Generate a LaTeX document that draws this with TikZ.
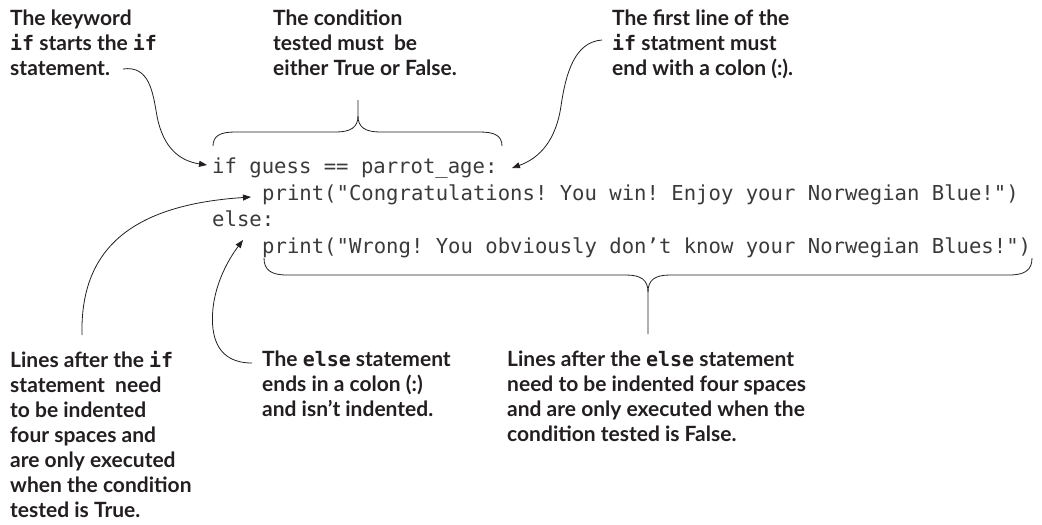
\documentclass[tikz,border=0pt]{standalone}
\usepackage{fontspec}
\setmainfont{Lato}
\setmonofont{DejaVu Sans Mono}
\usetikzlibrary{arrows.meta}
\definecolor{ink}{HTML}{231F20}
\definecolor{codeink}{HTML}{3A3A3A}
\newcommand\mycode[1]{{\fontspec{DejaVu Sans Mono}[Scale=0.95]#1}}
\tikzset{
  lbl/.style={anchor=north west, inner sep=0pt, align=left, text=ink,
    font=\fontsize{21}{25}\selectfont\bfseries},
  codeline/.style={anchor=base west, inner sep=0pt, text=codeink,
    font=\fontsize{20.6}{25}\ttfamily},
  conn/.style={draw=ink, line width=0.8pt},
  arr/.style={conn, -{Triangle[length=8pt,width=6pt]}},
  bracepath/.style={draw=ink, line width=0.8pt}
}
\begin{document}
\begin{tikzpicture}[x=1pt,y=-1pt]
\useasboundingbox (0,0) rectangle (1042,525);

% labels
\node[lbl] (kw) at (10,10) {The keyword\\\mycode{if} starts the \mycode{if}\\statement.};
\node[lbl] (cond) at (273,10) {The condition\\tested must\ \ be\\either True or False.};
\node[lbl] (first) at (612,10) {The first line of the\\\mycode{if} statment must\\end with a colon (:).};
\node[lbl] (body) at (10,351) {Lines after the \mycode{if}\\statement\ \ need\\to be indented\\four spaces and\\are only executed\\when the condition\\tested is True.};
\node[lbl] (els) at (262,351) {The \mycode{else} statement\\ends in a colon (:)\\and isn’t indented.};
\node[lbl] (elsebody) at (507,351) {Lines after the \mycode{else} statement\\need to be indented four spaces\\and are only executed when the\\condition tested is False.};

% code
\node[codeline] (c1) at (212,173) {if guess == parrot\_age:};
\node[codeline] (c2) at (262,200) {print("Congratulations! You win! Enjoy your Norwegian Blue!")};
\node[codeline] (c3) at (212,226) {else:};
\node[codeline] (c4) at (262,253) {print("Wrong! You obviously don’t know your Norwegian Blues!")};

% connector end points
\coordinate (kwS) at (123,69);
\coordinate (kwE) at (207,165);
\coordinate (fS) at (602,40);
\coordinate (fE) at (512,168);
\coordinate (bS) at (82,335);
\coordinate (bE) at (251,197);
\coordinate (eS) at (252,363);
\coordinate (eE) at (243,240);

\draw[arr] (kwS) .. controls (150,65) and (153,94) .. (157,116)
  .. controls (163,148) and (180,161) .. (kwE);
\draw[arr] (fS) .. controls (575,42) and (566,72) .. (561,106)
  .. controls (556,140) and (540,158) .. (fE);
\draw[arr] (bS) .. controls (80,250) and (130,205) .. (bE);
\draw[arr] (eS) .. controls (218,363) and (210,338) .. (213,308)
  .. controls (216,282) and (228,260) .. (eE);

% top brace
\coordinate (tb) at (358,100);
\draw[bracepath] (213,146) .. controls (213,136) and (220,132) .. (235,132)
  -- (336,132) .. controls (351,132) and (358,127) .. (358,116) -- (tb);
\draw[bracepath] (502,146) .. controls (502,136) and (495,132) .. (480,132)
  -- (380,132) .. controls (365,132) and (358,127) .. (358,116);

% bottom brace
\coordinate (bb) at (648,334);
\draw[bracepath] (264,258) .. controls (264,270) and (271,275) .. (287,275)
  -- (626,275) .. controls (641,275) and (648,280) .. (648,292) -- (bb);
\draw[bracepath] (1032,258) .. controls (1032,270) and (1025,275) .. (1009,275)
  -- (670,275) .. controls (655,275) and (648,280) .. (648,292);
\end{tikzpicture}
\end{document}
